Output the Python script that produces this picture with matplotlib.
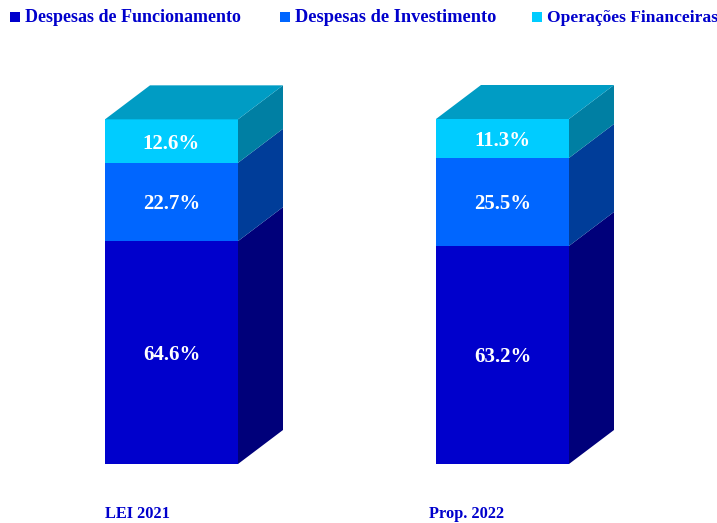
import matplotlib
matplotlib.use('Agg')
import matplotlib.pyplot as plt
from matplotlib.patches import Polygon, Rectangle

# Valores del gráfico
categorias = ['LEI 2021', 'Prop. 2022']
funcionamento = [64.6, 63.2]
investimento = [22.7, 25.5]
financeiras = [12.6, 11.3]

series = ['Despesas de Funcionamento', 'Despesas de Investimento', 'Operações Financeiras']
valores = [funcionamento, investimento, financeiras]
cor_frente = ['#0000CC', '#0066FF', '#00CCFF']
cor_lado = ['#00007A', '#003D99', '#007FA3']
cor_topo = '#009CC4'

plt.rcParams['font.family'] = ['Liberation Serif', 'DejaVu Serif']

W, H = 717, 523
fig = plt.figure(figsize=(W / 100, H / 100), dpi=100)
# eje en píxeles de la imagen para la perspectiva, y hacia arriba
ax = fig.add_axes([0, 0, 1, 1])
ax.set_xlim(0, W)
ax.set_ylim(H, 0)
ax.axis('off')

base = 464
alto_100 = 345 / 100
ancho = 133
dx, dy = 45, 34
izq = [105, 436]

for i, x in enumerate(izq):
    y0 = base
    for s in range(3):
        v = valores[s][i]
        h = v * alto_100
        y1 = y0 - h
        ax.add_patch(Rectangle((x, y1), ancho, h, fc=cor_frente[s], ec='none'))
        ax.add_patch(Polygon([(x + ancho, y0), (x + ancho + dx, y0 - dy),
                              (x + ancho + dx, y1 - dy), (x + ancho, y1)],
                             fc=cor_lado[s], ec='none'))
        ax.text(x + ancho / 2, (y0 + y1) / 2 + 2.5, f'{v}%', color='white', fontsize=15,
                fontweight='bold', ha='center', va='center')
        y0 = y1
    ax.add_patch(Polygon([(x, y0), (x + ancho, y0), (x + ancho + dx, y0 - dy),
                          (x + dx, y0 - dy)], fc=cor_topo, ec='none'))

# Etiquetas de categorías
ax.text(105, 514, categorias[0], color='#0000CC', fontsize=11.8, fontweight='bold', ha='left', va='center')
ax.text(429, 514, categorias[1], color='#0000CC', fontsize=11.8, fontweight='bold', ha='left', va='center')

# Leyenda
leg_x = [10, 280, 532]
leg_fs = [13, 13.2, 12.6]
for s in range(3):
    ax.add_patch(Rectangle((leg_x[s], 12), 10, 10, fc=cor_frente[s], ec='none'))
    ax.text(leg_x[s] + 15, 18, series[s], color='#0000CC', fontsize=leg_fs[s], fontweight='bold',
            ha='left', va='center')

fig.savefig('out.png', dpi=100)
